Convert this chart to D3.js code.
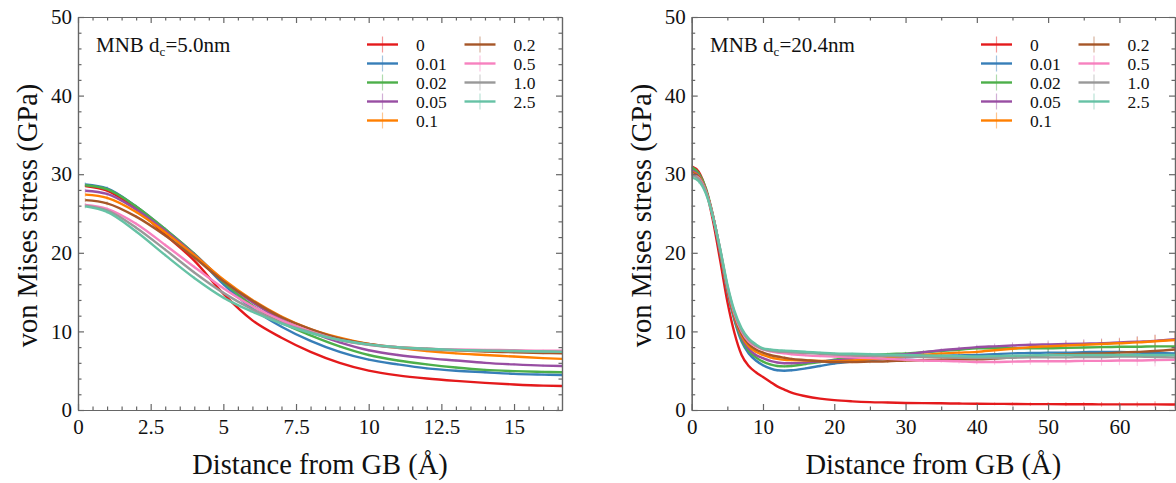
<!DOCTYPE html>
<html>
<head>
<meta charset="utf-8">
<script src="https://cdn.jsdelivr.net/npm/d3@7"></script>
<style>
  body { margin: 0; background: #fff; }
  svg { display: block; font-family: "Liberation Serif", "Times New Roman", serif; }
  .axis path, .axis line { stroke: #666; stroke-width: 1.2; }
  .axis text { font-size: 21px; fill: #111; font-family: "Liberation Serif", serif; }
  .axis-title { font-size: 28.5px; fill: #111; }
  .note { font-size: 21px; fill: #111; }
  .legend-label { font-size: 17.5px; fill: #111; }
</style>
</head>
<body>
<div id="chart"></div>
<script>
// legend names (solute concentration) and the line colours
const concentrations = ['0', '0.01', '0.02', '0.05', '0.1', '0.2', '0.5', '1.0', '2.5'];
const colors = ['#e41a1c', '#377eb8', '#4daf4a', '#984ea3', '#ff7f00', '#a65628', '#f781bf', '#999999', '#66c2a5'];

// ---- left panel, d_c = 5.0 nm ----
const leftX = [0.25, 1, 2, 3, 4, 5, 6, 7, 8, 9, 10, 11, 12, 13, 14, 15, 16, 16.65];
const left0    = [28.5, 27.9, 25.6, 22.3, 19.0, 14.8, 11.4, 9.2, 7.4, 6.0, 5.0, 4.4, 4.0, 3.7, 3.45, 3.25, 3.1, 3.05];
const left001  = [28.7, 28.2, 25.9, 23.0, 19.8, 16.0, 12.9, 10.6, 8.8, 7.4, 6.4, 5.8, 5.3, 5.0, 4.8, 4.6, 4.5, 4.45];
const left002  = [28.6, 28.1, 25.9, 23.0, 19.9, 16.3, 13.3, 11.1, 9.5, 8.1, 7.0, 6.3, 5.8, 5.4, 5.1, 4.95, 4.85, 4.8];
const left005  = [27.9, 27.5, 25.5, 22.8, 19.8, 16.5, 13.7, 11.5, 9.9, 8.6, 7.6, 7.0, 6.6, 6.3, 6.0, 5.8, 5.65, 5.6];
const left01   = [27.4, 27.0, 25.2, 22.6, 19.7, 16.6, 14.0, 11.9, 10.3, 9.2, 8.4, 7.9, 7.5, 7.2, 7.0, 6.8, 6.6, 6.5];
const left02   = [26.7, 26.3, 24.6, 22.2, 19.4, 16.4, 13.9, 11.8, 10.3, 9.1, 8.4, 8.0, 7.8, 7.6, 7.45, 7.35, 7.25, 7.2];
const left05   = [26.1, 25.6, 23.7, 21.0, 18.2, 15.5, 13.2, 11.4, 10.0, 8.9, 8.3, 8.0, 7.8, 7.7, 7.65, 7.6, 7.55, 7.55];
const left10   = [26.0, 25.4, 23.2, 20.4, 17.5, 14.9, 12.8, 11.1, 9.9, 8.9, 8.3, 7.9, 7.7, 7.6, 7.55, 7.5, 7.45, 7.4];
const left25   = [25.9, 25.2, 22.7, 19.7, 16.8, 14.3, 12.5, 11.0, 9.8, 8.9, 8.35, 8.0, 7.8, 7.65, 7.55, 7.5, 7.45, 7.4];
const leftErr  = [0.25, 0.25, 0.2, 0.2, 0.2, 0.2, 0.15, 0.15, 0.15, 0.15, 0.15, 0.15, 0.15, 0.15, 0.15, 0.15, 0.15, 0.15];

// ---- right panel, d_c = 20.4 nm ----
const rightX = [0, 1, 2, 3, 4, 5, 6, 7, 8, 9, 10, 11, 12, 13, 14, 16, 18, 20, 22.5, 25, 27.5, 30, 32.5, 35, 37.5,
                40, 42.5, 45, 47.5, 50, 52.5, 55, 57.5, 60, 62.5, 65, 67.8];
const right0   = [31.0, 30.3, 28.0, 24.0, 19.0, 13.8, 9.8, 7.0, 5.6, 4.8, 4.2, 3.6, 3.0, 2.6, 2.2, 1.75, 1.45, 1.25, 1.1, 1.0, 0.95, 0.9, 0.87, 0.85, 0.82,
                  0.8, 0.78, 0.77, 0.75, 0.75, 0.74, 0.73, 0.72, 0.72, 0.71, 0.71, 0.7];
const right001 = [30.6, 29.9, 28.0, 24.5, 19.9, 15.0, 11.4, 8.7, 7.2, 6.3, 5.7, 5.3, 5.05, 5.0, 5.05, 5.3, 5.6, 5.9, 6.15, 6.35, 6.55, 6.7, 6.8, 6.9, 6.95,
                  7.0, 7.1, 7.2, 7.25, 7.3, 7.3, 7.35, 7.4, 7.4, 7.3, 7.25, 7.2];
const right002 = [30.9, 30.1, 28.2, 24.7, 20.1, 15.2, 11.6, 9.0, 7.5, 6.7, 6.15, 5.8, 5.6, 5.55, 5.6, 5.85, 6.1, 6.4, 6.7, 6.95, 7.1, 7.2, 7.35, 7.5, 7.65,
                  7.85, 7.85, 7.85, 7.85, 7.85, 7.9, 7.95, 8.0, 8.05, 8.05, 8.1, 8.1];
const right005 = [30.5, 29.8, 27.9, 24.6, 20.1, 15.3, 11.8, 9.3, 7.8, 7.0, 6.6, 6.25, 6.05, 5.95, 5.95, 6.05, 6.2, 6.3, 6.5, 6.75, 6.95, 7.1, 7.35, 7.6, 7.8,
                  8.0, 8.1, 8.2, 8.3, 8.35, 8.4, 8.45, 8.5, 8.6, 8.7, 8.8, 9.0];
const right01  = [30.3, 29.7, 27.9, 24.6, 20.2, 15.4, 11.9, 9.5, 8.1, 7.4, 7.0, 6.7, 6.5, 6.4, 6.35, 6.3, 6.25, 6.2, 6.3, 6.45, 6.6, 6.8, 7.0, 7.2, 7.3,
                  7.4, 7.6, 7.8, 8.0, 8.1, 8.2, 8.3, 8.4, 8.5, 8.6, 8.75, 8.9];
const right02  = [30.2, 29.6, 27.9, 24.6, 20.3, 15.5, 12.0, 9.7, 8.4, 7.7, 7.3, 7.0, 6.8, 6.65, 6.5, 6.35, 6.2, 6.1, 6.1, 6.15, 6.2, 6.3, 6.35, 6.4, 6.45,
                  6.45, 6.55, 6.7, 6.85, 7.0, 7.1, 7.15, 7.2, 7.3, 7.4, 7.5, 7.7];
const right05  = [30.0, 29.5, 27.8, 24.6, 20.4, 15.7, 12.2, 10.0, 8.7, 8.1, 7.7, 7.45, 7.3, 7.2, 7.1, 6.95, 6.85, 6.8, 6.7, 6.6, 6.5, 6.4, 6.3, 6.25, 6.2,
                  6.1, 6.1, 6.15, 6.2, 6.2, 6.2, 6.25, 6.25, 6.3, 6.3, 6.35, 6.4];
const right10  = [29.9, 29.4, 27.7, 24.6, 20.4, 15.8, 12.4, 10.2, 8.9, 8.2, 7.75, 7.55, 7.45, 7.4, 7.35, 7.25, 7.15, 7.05, 6.95, 6.9, 6.85, 6.8, 6.75, 6.7, 6.65,
                  6.6, 6.6, 6.65, 6.7, 6.7, 6.7, 6.75, 6.75, 6.8, 6.8, 6.75, 6.7];
const right25  = [29.6, 29.1, 27.5, 24.5, 20.5, 16.0, 12.6, 10.4, 9.1, 8.35, 7.85, 7.7, 7.6, 7.55, 7.5, 7.4, 7.3, 7.2, 7.15, 7.1, 7.05, 7.0, 6.95, 6.9, 6.85,
                  6.8, 6.85, 6.9, 6.95, 7.0, 7.0, 7.0, 7.0, 7.0, 7.0, 7.0, 7.0];
const rightErr = [0.4, 0.3, 0.2, 0.15, 0.15, 0.15, 0.15, 0.15, 0.15, 0.15, 0.15, 0.15, 0.15, 0.15, 0.15, 0.15, 0.15, 0.15, 0.15, 0.2, 0.2, 0.2, 0.25, 0.25, 0.3,
                  0.3, 0.35, 0.4, 0.45, 0.5, 0.5, 0.55, 0.6, 0.6, 0.7, 0.8, 1.0];

const leftSeries = [left0, left001, left002, left005, left01, left02, left05, left10, left25];
const rightSeries = [right0, right001, right002, right005, right01, right02, right05, right10, right25];

class StressPlot {
  constructor(_config, _x, _series, _err) {
    this.config = {
      svg: _config.svg,
      left: _config.left,
      right: _config.right,
      top: 17,
      bottom: 410,
      xMax: _config.xMax,
      xMajor: _config.xMajor,
      xMinor: _config.xMinor,
      note: _config.note,
      noteX: _config.noteX,
      legendX: _config.legendX,
      id: _config.id
    };
    this.x = _x;
    this.series = _series;
    this.err = _err;
    this.initVis();
  }

  initVis() {
    let vis = this;
    const c = vis.config;

    vis.xScale = d3.scaleLinear().domain([0, c.xMax]).range([c.left, c.right]);
    vis.yScale = d3.scaleLinear().domain([0, 50]).range([c.bottom, c.top]);

    vis.g = c.svg.append('g');

    vis.g.append('clipPath').attr('id', 'clip-' + c.id)
      .append('rect')
        .attr('x', c.left).attr('y', c.top)
        .attr('width', c.right - c.left).attr('height', c.bottom - c.top);

    vis.renderVis();
  }

  renderVis() {
    let vis = this;
    const c = vis.config;
    const xMajorVals = d3.range(0, c.xMax + 1e-9, c.xMajor);
    const xMinorVals = d3.range(0, c.xMax, c.xMinor).filter(v => Math.abs(v / c.xMajor - Math.round(v / c.xMajor)) > 1e-6);
    const yMajorVals = [0, 10, 20, 30, 40, 50];
    const yMinorVals = d3.range(2, 50, 2).filter(v => v % 10 !== 0);

    // lines + error bars, clipped to the frame
    const plot = vis.g.append('g').attr('clip-path', `url(#clip-${c.id})`);
    const line = d3.line()
      .x((d, i) => vis.xScale(vis.x[i]))
      .y(d => vis.yScale(d))
      .curve(d3.curveMonotoneX);

    vis.series.forEach((vals, k) => {
      const eb = plot.append('g').attr('stroke', colors[k]).attr('stroke-opacity', 0.45).attr('stroke-width', 1);
      eb.selectAll('line')
          .data(vals)
        .join('line')
          .attr('x1', (d, i) => vis.xScale(vis.x[i]))
          .attr('x2', (d, i) => vis.xScale(vis.x[i]))
          .attr('y1', (d, i) => vis.yScale(d - (k === 0 ? 0.5 : 1) * vis.err[i]))
          .attr('y2', (d, i) => vis.yScale(d + (k === 0 ? 0.5 : 1) * vis.err[i]));
    });
    vis.series.forEach((vals, k) => {
      plot.append('path')
        .datum(vals)
        .attr('fill', 'none')
        .attr('stroke', colors[k])
        .attr('stroke-width', 2.4)
        .attr('d', line);
    });

    // axes, ticks pointing inward
    const addAxis = (axis, transform, labels) => {
      const a = vis.g.append('g').attr('class', 'axis').attr('transform', transform).call(axis);
      if (!labels) a.selectAll('text').remove();
      return a;
    };
    const tx = `translate(0,${c.bottom})`, tt = `translate(0,${c.top})`;
    const tl = `translate(${c.left},0)`, tr = `translate(${c.right},0)`;

    addAxis(d3.axisBottom(vis.xScale).tickValues(xMajorVals).tickSize(-6).tickSizeOuter(0).tickPadding(9).tickFormat(d3.format('')), tx, true);
    addAxis(d3.axisBottom(vis.xScale).tickValues(xMinorVals).tickSize(-3.5).tickSizeOuter(0), tx, false);
    addAxis(d3.axisTop(vis.xScale).tickValues(xMajorVals).tickSize(-6).tickSizeOuter(0), tt, false);
    addAxis(d3.axisTop(vis.xScale).tickValues(xMinorVals).tickSize(-3.5).tickSizeOuter(0), tt, false);
    addAxis(d3.axisLeft(vis.yScale).tickValues(yMajorVals).tickSize(-6).tickSizeOuter(0).tickPadding(6), tl, true);
    addAxis(d3.axisLeft(vis.yScale).tickValues(yMinorVals).tickSize(-3.5).tickSizeOuter(0), tl, false);
    addAxis(d3.axisRight(vis.yScale).tickValues(yMajorVals).tickSize(-6).tickSizeOuter(0), tr, false);
    addAxis(d3.axisRight(vis.yScale).tickValues(yMinorVals).tickSize(-3.5).tickSizeOuter(0), tr, false);

    // axis titles
    vis.g.append('text')
      .attr('class', 'axis-title')
      .attr('text-anchor', 'middle')
      .attr('x', (c.left + c.right) / 2)
      .attr('y', 474)
      .text('Distance from GB (Å)');
    vis.g.append('text')
      .attr('class', 'axis-title')
      .attr('text-anchor', 'middle')
      .attr('transform', `translate(${c.left - 41},${(c.top + c.bottom) / 2 + 2}) rotate(-90)`)
      .text('von Mises stress (GPa)');

    // annotation
    const note = vis.g.append('text').attr('class', 'note').attr('x', c.noteX).attr('y', 52);
    note.append('tspan').text('MNB d');
    note.append('tspan').attr('font-size', '13px').attr('dy', 4).text('c');
    note.append('tspan').attr('dy', -4).text('=' + c.note);

    // legend, two columns (5 rows in the first)
    const legend = vis.g.append('g').attr('class', 'legend');
    const items = legend.selectAll('g')
        .data(concentrations)
      .join('g')
        .attr('transform', (d, i) => {
          const col = i < 5 ? 0 : 1;
          const row = i < 5 ? i : i - 5;
          return `translate(${c.legendX + col * 97.5},${44.5 + row * 19})`;
        });
    items.append('line')
      .attr('x1', 0).attr('x2', 31).attr('y1', 0).attr('y2', 0)
      .attr('stroke', (d, i) => colors[i]).attr('stroke-width', 2.4);
    items.append('line')
      .attr('x1', 15.5).attr('x2', 15.5).attr('y1', -8).attr('y2', 8)
      .attr('stroke', (d, i) => colors[i]).attr('stroke-opacity', 0.45).attr('stroke-width', 1.2);
    items.append('text')
      .attr('class', 'legend-label')
      .attr('x', 49)
      .attr('y', 6)
      .text(d => d);
  }
}

const svg = d3.select('#chart').append('svg')
  .attr('width', 1176)
  .attr('height', 483);

new StressPlot({
  svg: svg, id: 'a', left: 78, right: 562, xMax: 16.65, xMajor: 2.5, xMinor: 0.5,
  note: '5.0nm', noteX: 96, legendX: 367
}, leftX, leftSeries, leftErr);

new StressPlot({
  svg: svg, id: 'b', left: 691.7, right: 1175, xMax: 67.8, xMajor: 10, xMinor: 5,
  note: '20.4nm', noteX: 710, legendX: 981
}, rightX, rightSeries, rightErr);
</script>
</body>
</html>
